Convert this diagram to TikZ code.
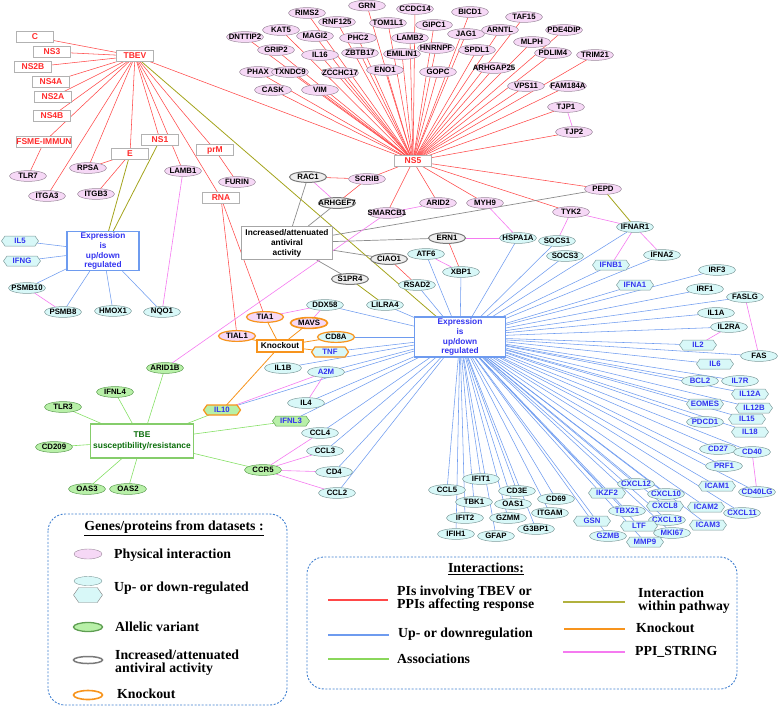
\documentclass[tikz,border=0pt]{standalone}
\usepackage{fontspec}
\setmainfont{Liberation Serif}
\newfontfamily\arialf{Liberation Sans}
\usetikzlibrary{shapes.geometric,shapes.symbols}
\pgfdeclarelayer{bg}
\pgfsetlayers{bg,main}
\definecolor{pkf}{HTML}{F6D8F6}
\definecolor{pkd}{HTML}{9C8A9C}
\definecolor{cyf}{HTML}{D8F8F8}
\definecolor{cyd}{HTML}{7F9C9C}
\definecolor{grf}{HTML}{B8F0A8}
\definecolor{grd}{HTML}{5E9E52}
\definecolor{gyf}{HTML}{EEEEEE}
\definecolor{gyd}{HTML}{7A7A7A}
\definecolor{org}{HTML}{F7941D}
\definecolor{redl}{HTML}{FF4848}
\definecolor{bluel}{HTML}{6E9BEF}
\definecolor{greenl}{HTML}{86E066}
\definecolor{olivel}{HTML}{A3A31C}
\definecolor{magl}{HTML}{F57AF0}
\definecolor{greyl}{HTML}{8C8C8C}
\definecolor{redt}{HTML}{FF2B2B}
\definecolor{bluet}{HTML}{3333F0}
\definecolor{dgreen}{HTML}{0B6E0B}
\definecolor{legb}{HTML}{3F7FD0}
\begin{document}
\begin{tikzpicture}[x=1pt,y=-1pt,
  nd/.style={inner sep=0pt, outer sep=0pt, font=\arialf\bfseries\fontsize{7.8}{8}\selectfont, line width=0.5pt, minimum width=37pt, minimum height=10.8pt},
  pk/.style={nd, ellipse, draw=pkd, fill=pkf},
  cy/.style={nd, ellipse, draw=cyd, fill=cyf},
  cyb/.style={cy, text=bluet},
  hx/.style={nd, signal, signal to=east and west, signal pointer angle=110, draw=cyd, fill=cyf, text=bluet, minimum height=10pt},
  gn/.style={nd, ellipse, draw=grd, fill=grf},
  gy/.style={nd, ellipse, draw=gyd, fill=gyf, line width=1pt},
  kob/.style={draw=org, line width=1.2pt},
  rb/.style={rectangle, draw=gray!60, fill=white, text=redt, inner sep=0pt, minimum width=37pt, minimum height=11pt, font=\arialf\bfseries\fontsize{8.5}{9}\selectfont},
  bigbox/.style={rectangle, fill=white, align=center, inner sep=0pt, font=\arialf\bfseries\fontsize{8.3}{9.8}\selectfont},
  edR/.style={draw=redl, line width=0.55pt},
  edB/.style={draw=bluel, line width=0.55pt},
  edG/.style={draw=greenl, line width=0.6pt},
  edO/.style={draw=olivel, line width=0.8pt},
  edK/.style={draw=org, line width=0.8pt},
  edM/.style={draw=magl, line width=0.6pt},
  edY/.style={draw=greyl, line width=0.7pt},
  legtxt/.style={font=\bfseries\fontsize{13.8}{13}\selectfont, anchor=west, align=left, inner sep=0pt}
]
\useasboundingbox (0,0) rectangle (778,707);

% ---------- red boxes ----------
\foreach \n/\x/\y in {C/35/37, NS3/52/52, NS2B/33/67, NS4A/51/82, NS2A/53/97, NS4B/52/116, TBEV/135/56, E/130/154, NS1/160/140, prM/215/150, RNA/221/198, NS5/413/161}
  \node[rb] (\n) at (\x,\y) {\n};
\node[rb, minimum width=55pt] (FSME) at (44,142) {FSME-IMMUN};

% ---------- pink ----------
\foreach \n/\x/\y in {TLR7/28/176, RPSA/88/168, LAMB1/183/171, FURIN/237/182, ITGA3/47/196, ITGB3/96/194, DNTTIP2/245/37, KAT5/281/30, GRIP2/276/50, PHAX/258/72, TXNDC9/290/72, CASK/273/90, VIM/320/90, RIMS2/307/13, MAGI2/315/36, IL16/320/55, ZCCHC17/340/73, RNF125/337/22, PHC2/358/38, ZBTB17/360/53, ENO1/385/70, GRN/367/5.6, TOM1L1/388/23, LAMB2/410/38, EMILIN1/402/54, CCDC14/415/9, GIPC1/434/25, HNRNPF/436/48, GOPC/438/72, BICD1/470/12, JAG1/466/34, SPDL1/477/50, ARNTL/500/30, ARHGAP25/494/68, TAF15/524/17, MLPH/532/42, PDE4DIP/564/30, PDLIM4/553/53, TRIM21/595/55, VPS11/526/86, FAM184A/568/86, TJP1/566/107, TJP2/574/132, SCRIB/367/179, SMARCB1/387/213, ARID2/438/203, MYH9/485/203, TYK2/571/212, PEPD/603/189}
  \node[pk] (\n) at (\x,\y) {\makebox[0pt]{\n}};

% ---------- cyan, black text ----------
\foreach \n/\x/\y in {HSPA1A/518/238, ATF6/426/254, XBP1/461/272, RSAD2/417/285, SOCS1/557/241, SOCS3/565/256, IFNAR1/635/227, IFNA2/662/255, IRF3/717/270, IRF1/705/289, FASLG/745/297, IL1A/716/313, IL2RA/729/327, FAS/759/356, PSMB10/27/288, PSMB8/63/312, HMOX1/113/311, NQO1/162/312, DDX58/325/305, LILRA4/385/305, IL1B/283/368, IL4/306/403, CCL4/320/433, CCL3/325/451, CD4/334/472, CCL2/337/493, IFIT1/481/479, CCL5/447/490, CD3E/517/491, TBK1/474/502, OAS1/513/504, CD69/556/499, IFIT2/465/518, GZMM/508/518, ITGAM/550/513, IFIH1/456/534, GFAP/496/536, G3BP1/536/529}
  \node[cy] (\n) at (\x,\y) {\makebox[0pt]{\n}};

% ---------- cyan, blue text ----------
\foreach \n/\x/\y in {A2M/326/372, BCL2/700/381, IL7R/740/381, PDCD1/705/422, CD27/718/449, CD40/752/452, PRF1/724/466, CD40LG/757/492, CXCL12/636/484, CXCL10/666/494, CXCL11/742/513, TBX21/627/511, CXCL13/667/520, GZMB/608/536, MKI67/672/533}
  \node[cyb] (\n) at (\x,\y) {\makebox[0pt]{\n}};

% ---------- hexagons ----------
\foreach \n/\x/\y in {IL5/20/241, IFNG/22/261, IFNB1/611/265, IFNA1/635/285, IL2/698/345, IL6/715/364, IL12A/750/394, EOMES/705/404, IL12B/754/408, IL15/747/419, IL18/750/432, ICAM1/717/486, IKZF2/607/493, CXCL8/665/506, ICAM2/706/507, ICAM3/708/525, GSN/592/521, LTF/639/526, MMP9/645/542}
  \node[hx] (\n) at (\x,\y) {\makebox[0pt]{\n}};

% ---------- green ----------
\foreach \n/\x/\y in {ARID1B/165/368, IFNL4/115/392, TLR3/63/407, CD209/54/447, OAS3/87/489, OAS2/128/489, CCR5/263/470}
  \node[gn] (\n) at (\x,\y) {\makebox[0pt]{\n}};
\node[hx, draw=grd, fill=grf] (IFNL3) at (291,421) {\makebox[0pt]{IFNL3}};

% ---------- grey (antiviral) ----------
\foreach \n/\x/\y in {RAC1/308/177, ARHGEF7/337/203, ERN1/447/238, CIAO1/389/259, S1PR4/350/279}
  \node[gy] (\n) at (\x,\y) {\makebox[0pt]{\n}};

% ---------- knockout ----------
\node[pk, kob] (TIA1) at (265,317) {\makebox[0pt]{TIA1}};
\node[pk, kob] (TIAL1) at (237,336) {\makebox[0pt]{TIAL1}};
\node[pk, kob, line width=1.6pt] (MAVS) at (309,323) {\makebox[0pt]{MAVS}};
\node[cy, kob] (CD8A) at (336,337) {\makebox[0pt]{CD8A}};
\node[hx, kob] (TNF) at (330,352) {\makebox[0pt]{TNF}};
\node[hx, kob, fill=grf] (IL10) at (222,410) {\makebox[0pt]{IL10}};

% ---------- big boxes ----------
\node[bigbox, draw=bluel, line width=1.3pt, text=bluet, minimum width=72pt, minimum height=39pt] (ExprL) at (103,251) {Expression\\is\\up/down\\regulated};
\node[bigbox, draw=bluel, line width=1.3pt, text=bluet, minimum width=91pt, minimum height=40pt] (ExprC) at (460,337) {Expression\\is\\up/down\\regulated};
\node[bigbox, draw=gray!70, line width=0.9pt, minimum width=91pt, minimum height=33pt, font=\arialf\bfseries\fontsize{8.3}{10}\selectfont] (Incr) at (287,243) {Increased/attenuated\\antiviral\\activity};
\node[bigbox, draw=org, line width=1.1pt, minimum width=46pt, minimum height=12pt] (KO) at (280,346) {Knockout};
\node[bigbox, draw=greenl!80!gray, line width=1.1pt, text=dgreen, minimum width=103pt, minimum height=34pt, font=\arialf\bfseries\fontsize{8.4}{11}\selectfont] (TBE) at (142,441) {TBE\\susceptibility/resistance};

% ---------- edges ----------
\begin{pgfonlayer}{bg}
\foreach \t in {IL5, IFNG, PSMB10, PSMB8, HMOX1, NQO1}
  \draw[edB] (ExprL) -- (\t);
\foreach \t in {DDX58, LILRA4, RSAD2, ATF6, XBP1, HSPA1A, SOCS1, SOCS3, IFNAR1, IFNB1, IFNA2, IFNA1, IRF3, IRF1, FASLG, IL1A, IL2RA, IL2, FAS, IL6, BCL2, IL7R, IL12A, EOMES, IL12B, PDCD1, IL15, IL18, CD27, CD40, PRF1, ICAM1, CD40LG, CXCL12, IKZF2, CXCL10, CXCL8, ICAM2, CXCL11, TBX21, CXCL13, ICAM3, GSN, LTF, GZMB, MKI67, MMP9, CD69, ITGAM, G3BP1, CD3E, OAS1, GZMM, GFAP, IFIT1, TBK1, IFIT2, IFIH1, CCL5, CD8A, TNF, IL1B, A2M, IL4, IL10, IFNL3, CCL4, CCL3, CD4, CCL2}
  \draw[edB] (ExprC) -- (\t);
\foreach \t in {C, NS3, NS2B, NS4A, NS2A, NS4B, FSME, ITGA3, RPSA, E, NS1, LAMB1, prM, RNA, NS5}
  \draw[edR] (TBEV) -- (\t);
\foreach \t in {DNTTIP2, KAT5, GRIP2, PHAX, TXNDC9, CASK, VIM, RIMS2, MAGI2, IL16, ZCCHC17, RNF125, PHC2, ZBTB17, ENO1, GRN, TOM1L1, LAMB2, EMILIN1, CCDC14, GIPC1, HNRNPF, GOPC, BICD1, JAG1, SPDL1, ARNTL, ARHGAP25, TAF15, MLPH, PDE4DIP, PDLIM4, TRIM21, VPS11, FAM184A, TJP1, TJP2, SCRIB, SMARCB1, ARID2, MYH9, TYK2, PEPD}
  \draw[edR] (NS5) -- (\t);
\foreach \a/\b in {FSME/TLR7, E/RPSA, E/ITGB3, prM/FURIN, RNA/TIA1, RNA/TIAL1, RAC1/SCRIB, SCRIB/ARHGEF7, ERN1/XBP1, CIAO1/RSAD2}
  \draw[edR] (\a) -- (\b);
\foreach \a/\b in {TBEV/ExprC, E/ExprL, NS1/ExprL, PEPD/IFNAR1, S1PR4/LILRA4}
  \draw[edO] (\a) -- (\b);
\foreach \t in {RAC1, ARHGEF7, PEPD, ERN1, CIAO1, S1PR4}
  \draw[edY] (Incr) -- (\t);
\foreach \a/\b in {TJP1/TJP2, RAC1/ARHGEF7, SMARCB1/ARID2, MYH9/HSPA1A, ERN1/HSPA1A, ATF6/XBP1, SMARCB1/ARID1B, LAMB1/NQO1, PSMB10/PSMB8, TYK2/IFNAR1, TYK2/SOCS1, IFNAR1/IFNB1, IFNAR1/IFNA2, FASLG/FAS, IL2RA/IL2, CD40/CD40LG, TIA1/DDX58, MAVS/DDX58, IL10/A2M, A2M/IL4, CCR5/CCL4, CCR5/CCL3, CCR5/CD4, CCR5/CCL2}
  \draw[edM] (\a) -- (\b);
\foreach \t in {TIA1, TIAL1, MAVS, CD8A, TNF, IL10}
  \draw[edK] (KO) -- (\t);
\foreach \t in {ARID1B, IFNL4, TLR3, CD209, IL10, IFNL3, CCR5, OAS3, OAS2}
  \draw[edG] (TBE) -- (\t);
\end{pgfonlayer}

% ---------- legend left ----------
\draw[legb, line width=0.9pt, dash pattern=on 2pt off 1.6pt, rounded corners=17pt] (48,514) rectangle (287,705);
\node[font=\bfseries\fontsize{13.8}{14}\selectfont, inner sep=0pt] (lgT1) at (174,528) {\underline{Genes/proteins from datasets :}};
\node[ellipse, draw=pkd, fill=pkf, minimum width=28pt, minimum height=10pt, inner sep=0pt] (lgP) at (88,554) {};
\node[ellipse, draw=cyd, fill=cyf, minimum width=28pt, minimum height=9pt, inner sep=0pt] (lgC) at (88,581) {};
\node[signal, signal to=east and west, signal pointer angle=110, draw=gray, fill=cyf, minimum width=29pt, minimum height=15pt, inner sep=0pt] (lgH) at (88,595) {};
\node[ellipse, draw=grd, fill=grf, line width=1.3pt, minimum width=29pt, minimum height=9pt, inner sep=0pt] (lgG) at (88,627) {};
\node[ellipse, draw=gyd, fill=white, line width=1.5pt, minimum width=29pt, minimum height=7pt, inner sep=0pt] (lgY) at (88,660) {};
\node[ellipse, draw=org, fill=white, line width=1.6pt, minimum width=29pt, minimum height=9pt, inner sep=0pt] (lgK) at (88,695) {};
\node[legtxt] (lt1) at (114,555) {Physical interaction};
\node[legtxt] (lt2) at (114,588) {Up- or down-regulated};
\node[legtxt] (lt3) at (115,627) {Allelic variant};
\node[legtxt] (lt4) at (115,663) {Increased/attenuated\\antiviral activity};
\node[legtxt] (lt5) at (117,694) {Knockout};

% ---------- legend right ----------
\draw[legb, line width=0.9pt, dash pattern=on 2pt off 1.6pt, rounded corners=17pt] (307,557) rectangle (737,689);
\node[font=\bfseries\fontsize{13.8}{14}\selectfont, inner sep=0pt] (lgT2) at (486,569) {\underline{Interactions:}};
\draw[redl, line width=1.4pt] (328,600) -- (388,600);
\draw[bluel, line width=1.4pt] (328,635) -- (389,635);
\draw[greenl!85!olivel, line width=1.4pt] (328,659) -- (389,659);
\draw[olivel!85, line width=2.4pt] (563,602) -- (625,602);
\draw[org, line width=1.6pt] (564,629) -- (625,629);
\draw[magl, line width=1.4pt] (563,652) -- (625,652);
\node[legtxt] (lr1) at (397,599) {PIs involving TBEV or\\PPIs affecting response};
\node[legtxt] (lr2) at (398,634) {Up- or downregulation};
\node[legtxt] (lr3) at (397,659) {Associations};
\node[legtxt] (lr4) at (638,601) {Interaction\\within pathway};
\node[legtxt] (lr5) at (636,628) {Knockout};
\node[legtxt] (lr6) at (635,652) {PPI\_STRING};
\end{tikzpicture}
\end{document}
